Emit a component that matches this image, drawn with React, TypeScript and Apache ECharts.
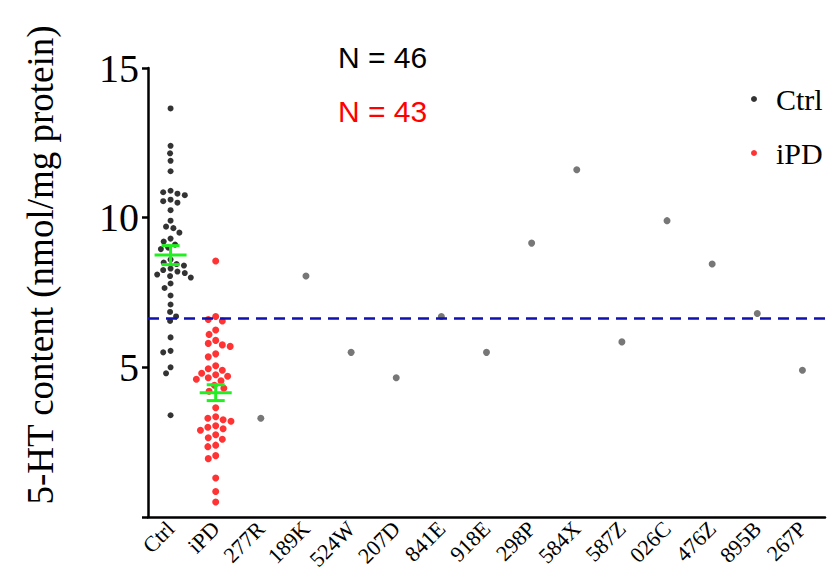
import React, { useEffect, useRef } from "react";
import * as echarts from "echarts";

const categories = ["Ctrl", "iPD", "277R", "189K", "524W", "207D", "841E", "918E", "298P", "584X", "587Z", "026C", "476Z", "895B", "267P"];

const ctrlValues = [
  13.65, 12.4, 12.15, 11.9, 11.55,
  10.9, 10.85, 10.8, 10.75, 10.6, 10.55, 10.5,
  10.25, 9.9, 9.7, 9.65, 9.5,
  9.3, 9.2, 9.1, 9.0, 8.95,
  8.6, 8.5, 8.45, 8.4, 8.3, 8.25, 8.2, 8.15, 8.1, 8.05, 8.0,
  7.8, 7.65, 7.4, 7.1, 6.85, 6.7, 6.55,
  6.0, 5.55, 5.5, 5.0, 4.8, 3.4,
];

const ipdValues = [
  8.55, 6.7, 6.6, 6.55, 6.25, 6.1, 5.9,
  5.75, 5.7, 5.8, 5.45, 5.35,
  5.05, 4.95, 4.9, 4.8, 4.75, 4.7, 4.65, 4.6, 4.55,
  4.4, 4.3, 4.2, 3.65,
  3.35, 3.3, 3.25, 3.2, 3.05, 3.0, 2.95, 2.9,
  2.75, 2.65, 2.6, 2.4, 2.35, 2.05, 1.95,
  1.3, 0.85, 0.5,
];

const sampleCategories = ["277R", "189K", "524W", "207D", "841E", "918E", "298P", "584X", "587Z", "026C", "476Z", "895B", "267P"];
const sampleValues = [3.3, 8.05, 5.5, 4.65, 6.7, 5.5, 9.15, 11.6, 5.85, 9.9, 8.45, 6.8, 4.9];

const thresholdValue = 6.65;
const yTicks = [0, 5, 10, 15];
const yAxisTitle = "5-HT content (nmol/mg protein)";

const GRID = { left: 148, right: 10, top: 68, bottom: 68 };
const H = 585;

function meanSem(vals: number[]) {
  const n = vals.length;
  const m = vals.reduce((a, b) => a + b, 0) / n;
  const sd = Math.sqrt(vals.reduce((a, b) => a + (b - m) * (b - m), 0) / (n - 1));
  return [m, sd / Math.sqrt(n)];
}

function swarm(vals: number[], d: number, ppu: number): number[] {
  const order = vals.map((v, i) => i).sort((a, b) => vals[b] - vals[a]);
  const placed: { x: number; y: number }[] = [];
  const offs = new Array(vals.length).fill(0);
  for (const i of order) {
    const y = vals[i] * ppu;
    const intervals: [number, number][] = [];
    for (const p of placed) {
      const dy = Math.abs(p.y - y);
      if (dy < d) {
        const dx = Math.sqrt(d * d - dy * dy);
        intervals.push([p.x - dx, p.x + dx]);
      }
    }
    const cands = [0];
    for (const [a, b] of intervals) { cands.push(a, b); }
    cands.sort((a, b) => Math.abs(a) - Math.abs(b));
    let chosen = 0;
    for (const c of cands) {
      if (!intervals.some(([a, b]) => c > a + 1e-6 && c < b - 1e-6)) { chosen = c; break; }
    }
    placed.push({ x: chosen, y });
    offs[i] = chosen;
  }
  return offs;
}

export default function App() {
  const ref = useRef<HTMLDivElement>(null);
  useEffect(() => {
    document.body.style.margin = "0";
    if (!ref.current) return;
    const chart = echarts.init(ref.current, null, { renderer: "svg" });
    const ppu = (H - GRID.top - GRID.bottom) / 15;
    const ctrlOffs = swarm(ctrlValues, 7.5, ppu);
    const ipdOffs = swarm(ipdValues, 8, ppu);
    const [cm, cs] = meanSem(ctrlValues);
    const [im, is] = meanSem(ipdValues);
    const serif = "Liberation Serif";
    chart.setOption({
      animation: false,
      backgroundColor: "#fff",
      grid: GRID,
      legend: {
        data: [
          { name: "Ctrl", icon: "circle" },
          { name: "iPD", icon: "circle" },
        ],
        orient: "vertical",
        left: 746,
        top: 79,
        itemWidth: 6,
        itemHeight: 6,
        itemGap: 24,
        textStyle: { fontFamily: serif, fontSize: 30, color: "#000", padding: [0, 0, 0, 14] },
      },
      xAxis: {
        type: "category",
        data: categories,
        axisLine: { lineStyle: { color: "#000", width: 2.5 } },
        axisTick: { alignWithLabel: true, length: 6, lineStyle: { color: "#000", width: 2.5 } },
        axisLabel: { rotate: 45, fontFamily: serif, fontSize: 22, color: "#000", margin: 8, interval: 0 },
      },
      yAxis: {
        type: "value",
        min: 0,
        max: 15,
        interval: 5,
        splitLine: { show: false },
        axisLine: { show: true, lineStyle: { color: "#000", width: 2.5 } },
        axisTick: { show: true, length: 6, lineStyle: { color: "#000", width: 2.5 } },
        axisLabel: {
          fontFamily: serif, fontSize: 40, color: "#000", margin: 9,
          formatter: (v: number) => (v === 0 || !yTicks.includes(v) ? "" : String(v)),
        },
      },
      graphic: [
        {
          type: "text", x: 40, y: 265, rotation: Math.PI / 2,
          style: { text: yAxisTitle, fontFamily: serif, fontSize: 37, fill: "#000", align: "center", verticalAlign: "middle" },
        },
        { type: "text", left: 338, top: 42, style: { text: "N = 46", fontFamily: "Liberation Sans", fontSize: 30, fill: "#000" } },
        { type: "text", left: 338, top: 96, style: { text: "N = 43", fontFamily: "Liberation Sans", fontSize: 30, fill: "#ff0000" } },
      ],
      series: [
        {
          name: "Ctrl",
          type: "scatter",
          symbol: "circle",
          symbolSize: 6,
          itemStyle: { color: "#000" },
          data: ctrlValues.map((v, i) => ({ value: [0, v], symbolOffset: [ctrlOffs[i], 0] })),
          z: 2,
        },
        {
          name: "iPD",
          type: "scatter",
          symbol: "circle",
          symbolSize: 7,
          itemStyle: { color: "#ff0000" },
          data: ipdValues.map((v, i) => ({ value: [1, v], symbolOffset: [ipdOffs[i], 0] })),
          z: 2,
        },
        {
          name: "Samples",
          type: "scatter",
          symbol: "circle",
          symbolSize: 7,
          itemStyle: { color: "#555" },
          data: sampleCategories.map((c, i) => [c, sampleValues[i]]),
          markLine: {
            silent: true,
            symbol: "none",
            label: { show: false },
            lineStyle: { color: "#1010b0", width: 2.5, type: [11, 7] },
            data: [{ yAxis: thresholdValue }],
          },
          z: 2,
        },
        {
          name: "MeanSEM",
          type: "custom",
          z: 5,
          encode: { x: 0, y: 1 },
          data: [[0, cm, cs], [1, im, is]],
          renderItem: (params: any, api: any) => {
            const x = api.value(0), m = api.value(1), s = api.value(2);
            const c = api.coord([x, m]);
            const t = api.coord([x, m + s]);
            const b = api.coord([x, m - s]);
            const st = { stroke: "#22ee22", lineWidth: 3 };
            return {
              type: "group",
              children: [
                { type: "line", shape: { x1: c[0] - 16, y1: c[1], x2: c[0] + 16, y2: c[1] }, style: st },
                { type: "line", shape: { x1: c[0], y1: t[1], x2: c[0], y2: b[1] }, style: st },
                { type: "line", shape: { x1: c[0] - 9, y1: t[1], x2: c[0] + 9, y2: t[1] }, style: st },
                { type: "line", shape: { x1: c[0] - 9, y1: b[1], x2: c[0] + 9, y2: b[1] }, style: st },
              ],
            };
          },
        },
      ],
    });
    return () => chart.dispose();
  }, []);
  return <div ref={ref} style={{ width: 835, height: 585 }} />;
}
